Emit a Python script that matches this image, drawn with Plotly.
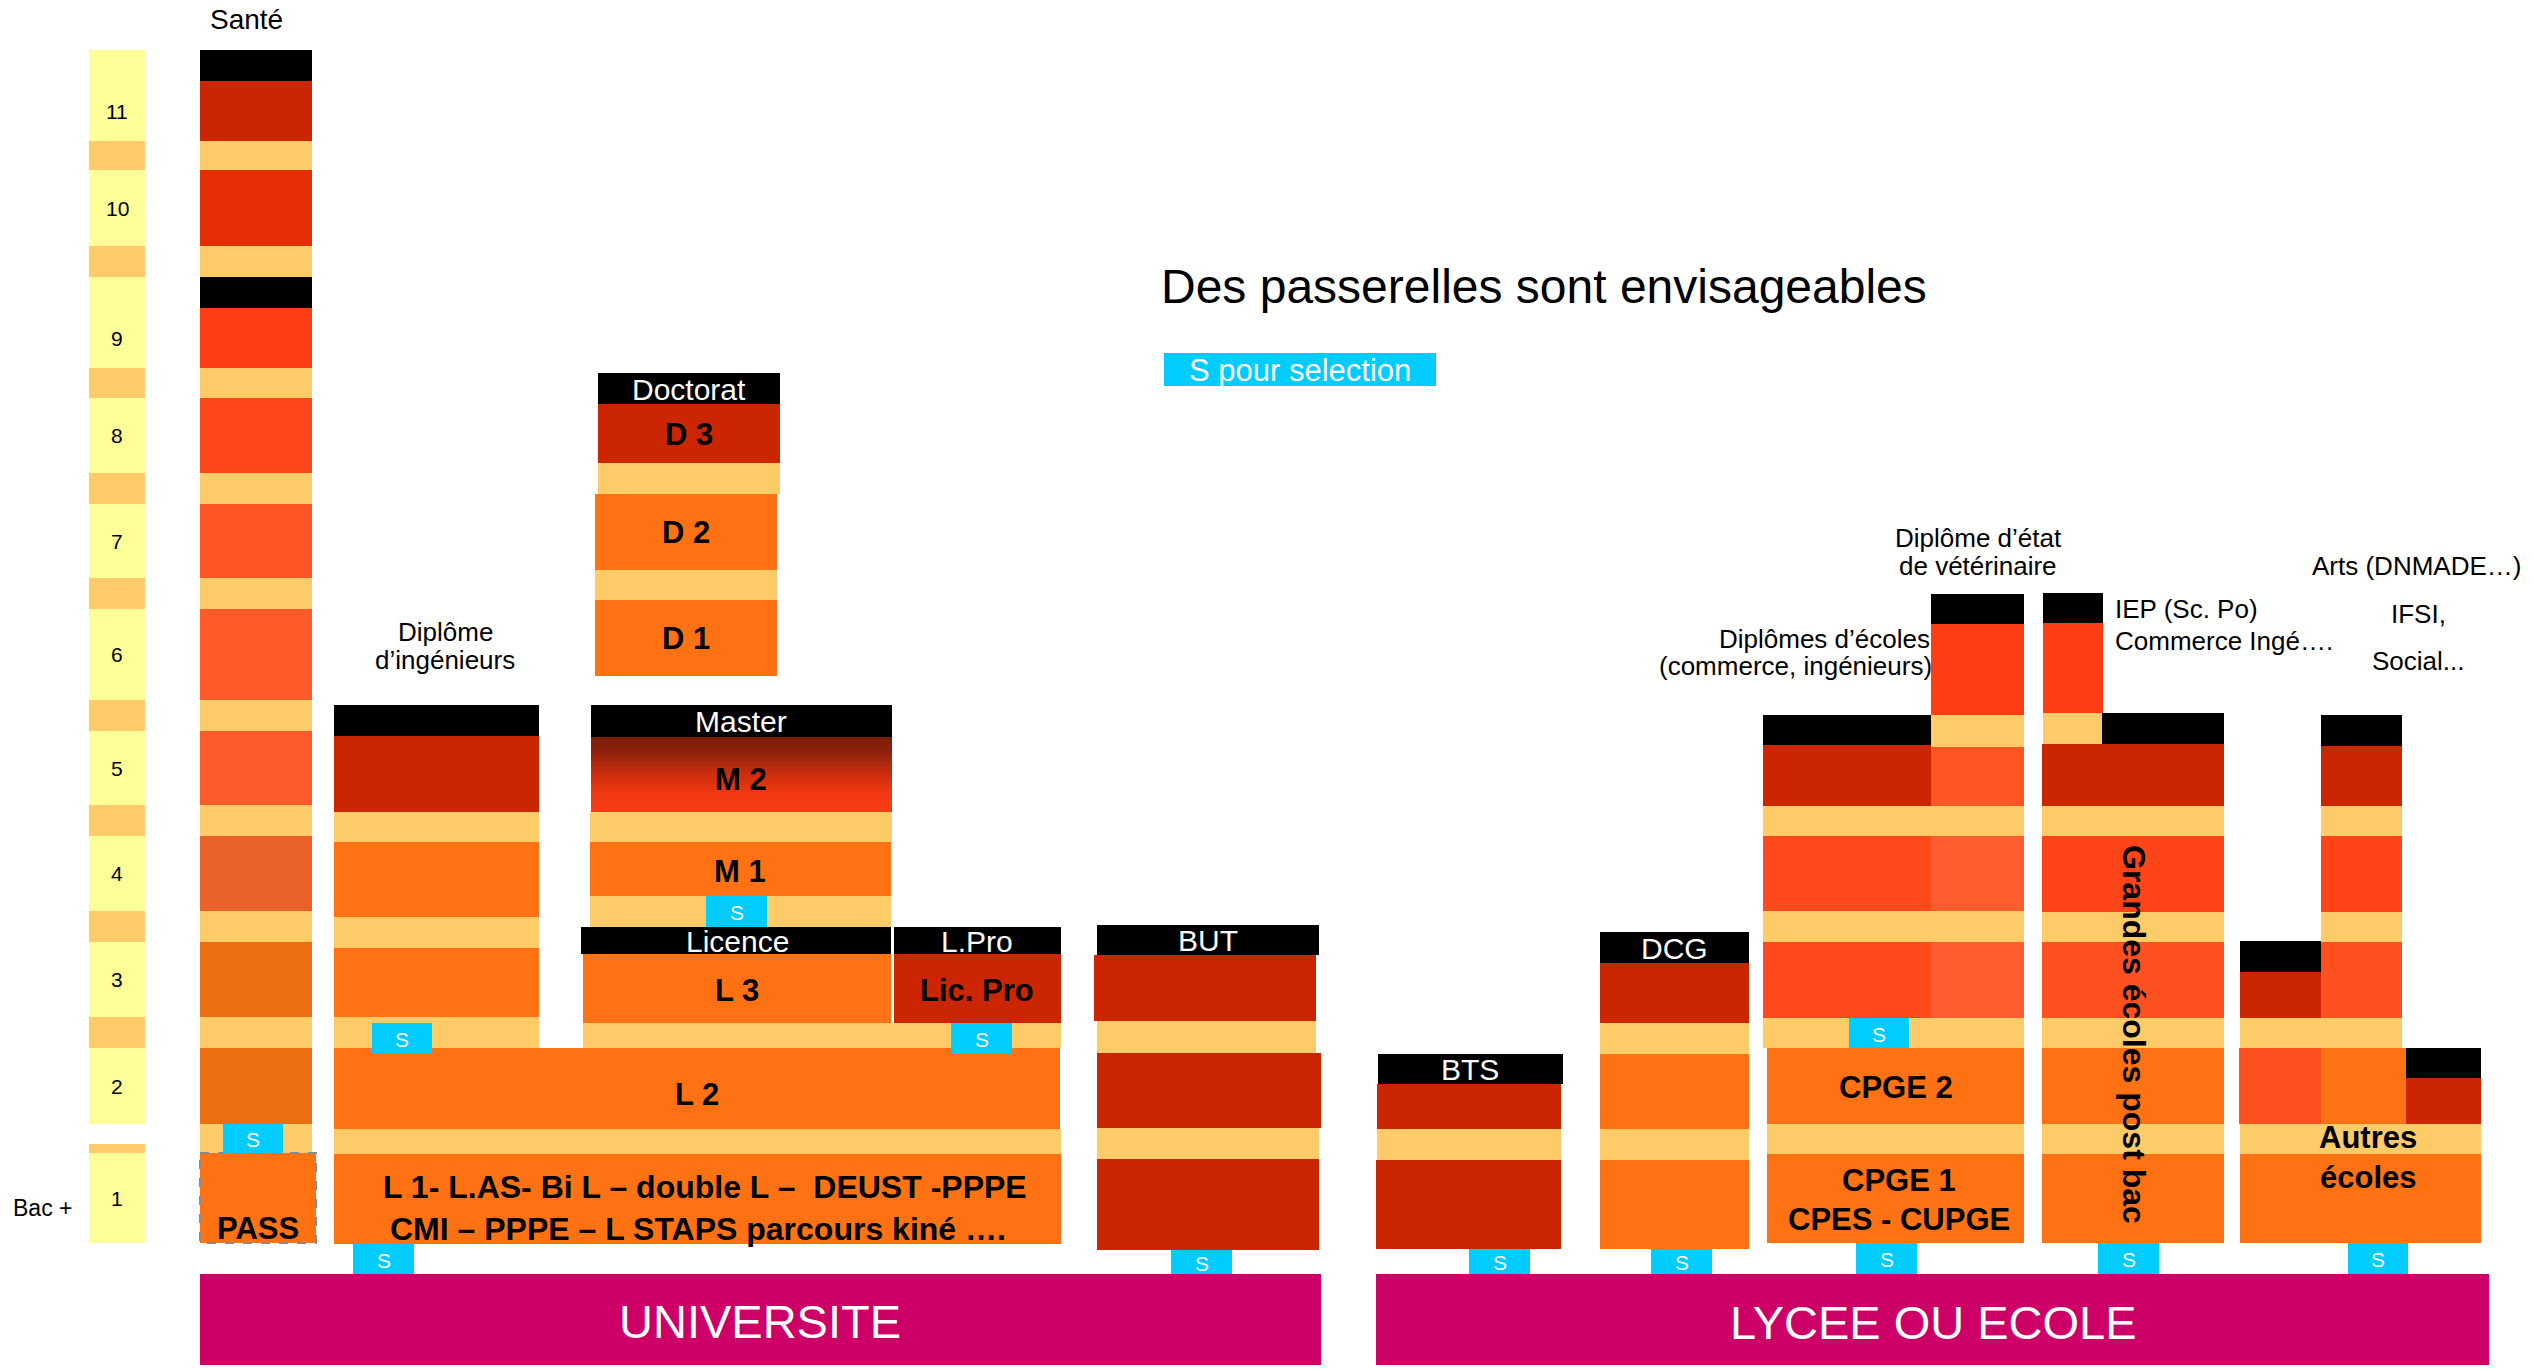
import plotly.graph_objects as go

# ------------------------------------------------------------------
# DATA (texts, levels, categories)
# ------------------------------------------------------------------
LEVELS = [1, 2, 3, 4, 5, 6, 7, 8, 9, 10, 11]
LEVEL_LABELS = [str(v) for v in LEVELS]
BAC_LABEL = "Bac +"
TITLE = "Des passerelles sont envisageables"
LEGEND_S = "S pour selection"
SECTORS = ["UNIVERSITE", "LYCEE OU ECOLE"]
SANTE_TITLE = "Santé"
SANTE_LEVELS = [2, 3, 4, 5, 6, 7, 8, 9, 10, 11]
SANTE_HEADER_LEVELS = [9, 11]
PASS_LABEL = "PASS"
HEADERS = ["Doctorat", "Master", "Licence", "L.Pro", "BUT", "BTS", "DCG"]
DOCTORAT_LABELS = ["D 3", "D 2", "D 1"]
MASTER_LABELS = ["M 2", "M 1"]
LICENCE_LABELS = ["L 3", "Lic. Pro", "L 2"]
L1_LINES = ["L 1- L.AS- Bi L – double L –  DEUST -PPPE",
            "CMI – PPPE – L STAPS parcours kiné …."]
CPGE_LABELS = ["CPGE 2", "CPGE 1", "CPES - CUPGE"]
GE_LABEL = "Grandes écoles post bac"
AUTRES_LINES = ["Autres", "écoles"]
NOTE_ING = ["Diplôme", "d’ingénieurs"]
NOTE_ECOLES = ["Diplômes d’écoles", "(commerce, ingénieurs)"]
NOTE_VETO = ["Diplôme d’état", "de vétérinaire"]
NOTE_IEP = ["IEP (Sc. Po)", "Commerce Ingé…."]
NOTE_ARTS = ["Arts (DNMADE…)", "IFSI,", "Social..."]
S_TEXT = "S"

# ------------------------------------------------------------------
# STYLE
# ------------------------------------------------------------------
YEL = "#FFFF99"
SEP = "#FECB69"
BLK = "#000000"
DRED = "#CC2503"
ORG = "#FF7213"
CYAN = "#00CCFF"
MAG = "#CC0066"
SANTE_COLORS = {2: "#EC6E11", 3: "#EC6E11", 4: "#E9622A", 5: "#FF5A2A",
                6: "#FF5A28", 7: "#FF5524", 8: "#FF471C", 9: "#FF3D14",
                10: "#E62E06", 11: "#CC2503"}
R_CP = "#FF481C"
R_VET = "#FF5C30"
R_VET5 = "#FF5522"
R_G4 = "#FF4418"
R_G3 = "#FF5020"
R_TOP = "#FF3D14"
FONT = "Liberation Sans, Arial, sans-serif"

W, H = 2534, 1369

# level bands (pixel layout of the level scale, top / bottom)
BAND_TOP = [1153, 1048, 942, 836, 731, 609, 504, 398, 277, 170, 50]
BAND_BOT = [1243, 1124, 1017, 911, 805, 700, 578, 473, 368, 246, 141]
HDR = 31

shapes = []
anns = []
s_boxes = []


def rect(x0, x1, y0, y1, color, line=None):
    shapes.append(dict(type="rect", xref="x", yref="y", x0=x0, x1=x1, y0=y0, y1=y1,
                       fillcolor=color, line=line or dict(width=0), layer="above"))


def txt(x, y, text, size, color="black", bold=False, xanchor="center", angle=0):
    if bold:
        text = "<b>" + text + "</b>"
    anns.append(dict(x=x, y=y, xref="x", yref="y", text=text, showarrow=False,
                     xanchor=xanchor, yanchor="middle", textangle=angle,
                     font=dict(family=FONT, size=size, color=color)))


def sbox(x0, x1, y0, y1):
    s_boxes.append((x0, x1, y0, y1))


idx = {lv: i for i, lv in enumerate(LEVELS)}

# ---------------- legend column (Bac + levels) ----------------
LX0, LX1 = 89, 145
for i, lv in enumerate(LEVELS):
    rect(LX0, LX1, BAND_TOP[i], BAND_BOT[i], YEL)
    top = BAND_TOP[i] + (HDR if lv in SANTE_HEADER_LEVELS else 0)
    txt((LX0 + LX1) / 2, (top + BAND_BOT[i]) / 2, LEVEL_LABELS[i], 21)
for i in range(1, len(LEVELS) - 1):
    rect(LX0, LX1, BAND_BOT[i + 1], BAND_TOP[i], SEP)
rect(LX0, LX1, 1144, 1153, SEP)
txt(42, 1208, BAC_LABEL, 23)

# ---------------- Santé ----------------
SX0, SX1 = 200, 312
txt(246, 19, SANTE_TITLE, 28)
for lv in SANTE_LEVELS:
    i = idx[lv]
    rect(SX0, SX1, BAND_TOP[i], BAND_BOT[i], SANTE_COLORS[lv])
    if lv in SANTE_HEADER_LEVELS:
        rect(SX0, SX1, BAND_TOP[i], BAND_TOP[i] + HDR, BLK)
for lv in SANTE_LEVELS[:-1]:
    i = idx[lv]
    rect(SX0, SX1, BAND_BOT[i + 1], BAND_TOP[i], SEP)
rect(SX0, SX1, BAND_BOT[1], BAND_TOP[0], SEP)
sbox(223, 283, 1124, 1153)
rect(200, 316, 1153, 1243, ORG, line=dict(color="#8A8A8A", width=2, dash="dash"))
txt(258, 1228, PASS_LABEL, 31, bold=True)

# ---------------- Ingénieurs ----------------
rect(334, 539, 705, 736, BLK)
rect(334, 539, 736, 812, DRED)
rect(334, 539, 812, 842, SEP)
rect(334, 539, 842, 917, ORG)
rect(334, 539, 917, 948, SEP)
rect(334, 539, 948, 1017, ORG)
rect(334, 539, 1017, 1048, SEP)
sbox(372, 432, 1023, 1054)
txt(445, 632, NOTE_ING[0], 26)
txt(445, 660, NOTE_ING[1], 26)

# ---------------- Doctorat ----------------
rect(598, 780, 373, 404, BLK)
txt(689, 389, HEADERS[0], 30, color="white")
rect(598, 780, 404, 464, DRED)
txt(689, 434, DOCTORAT_LABELS[0], 31, bold=True)
rect(598, 780, 463, 494, SEP)
rect(595, 777, 494, 570, ORG)
txt(686, 532, DOCTORAT_LABELS[1], 31, bold=True)
rect(595, 777, 570, 600, SEP)
rect(595, 777, 600, 676, ORG)
txt(686, 638, DOCTORAT_LABELS[2], 31, bold=True)

# ---------------- Master (M2 gradient) ----------------
rect(591, 892, 705, 737, BLK)
txt(741, 721, HEADERS[1], 30, color="white")
grad_stops = [(0.0, (122, 28, 12)), (0.25, (150, 36, 13)), (0.5, (205, 46, 14)),
              (0.75, (240, 56, 19)), (1.0, (250, 62, 20))]


def grad_color(t):
    for (t0, c0), (t1, c1) in zip(grad_stops[:-1], grad_stops[1:]):
        if t0 <= t <= t1:
            f = (t - t0) / (t1 - t0)
            return "rgb(%d,%d,%d)" % tuple(round(a + (b - a) * f) for a, b in zip(c0, c1))
    return "rgb(250,62,20)"


G0, G1 = 737, 812
n = 38
step = (G1 - G0) / n
for k in range(n):
    y0 = G0 + k * step
    rect(591, 892, y0, min(G1, y0 + step + 0.8), grad_color((k + 0.5) / n))
txt(741, 779, MASTER_LABELS[0], 31, bold=True)
rect(590, 892, 812, 842, SEP)
rect(590, 891, 842, 896, ORG)
txt(740, 871, MASTER_LABELS[1], 31, bold=True)
rect(590, 891, 896, 927, SEP)
sbox(706, 767, 896, 927)

# ---------------- Licence / L.Pro / L2 / L1 ----------------
rect(581, 891, 927, 954, BLK)
txt(737, 941, HEADERS[2], 30, color="white")
rect(894, 1061, 927, 954, BLK)
txt(977, 941, HEADERS[3], 30, color="white")
rect(583, 891, 954, 1023, ORG)
txt(737, 990, LICENCE_LABELS[0], 31, bold=True)
rect(894, 1061, 954, 1023, DRED)
txt(977, 990, LICENCE_LABELS[1], 31, bold=True)
rect(583, 1061, 1023, 1048, SEP)
sbox(951, 1012, 1023, 1054)
rect(334, 1060, 1048, 1129, ORG)
txt(697, 1094, LICENCE_LABELS[2], 31, bold=True)
rect(334, 1061, 1129, 1154, SEP)
rect(334, 1061, 1154, 1244, ORG)
txt(705, 1187, L1_LINES[0], 32, bold=True)
txt(698, 1229, L1_LINES[1], 32, bold=True)
sbox(353, 414, 1244, 1274)

# ---------------- BUT ----------------
rect(1097, 1319, 925, 955, BLK)
txt(1208, 940, HEADERS[4], 30, color="white")
rect(1094, 1316, 955, 1021, DRED)
rect(1097, 1316, 1021, 1053, SEP)
rect(1097, 1321, 1053, 1128, DRED)
rect(1097, 1319, 1128, 1159, SEP)
rect(1097, 1319, 1159, 1250, DRED)
sbox(1171, 1232, 1250, 1274)

# UNIVERSITE bar
rect(200, 1321, 1274, 1365, MAG)
txt(760, 1321, SECTORS[0], 47, color="white")

# ---------------- BTS ----------------
rect(1378, 1563, 1054, 1084, BLK)
txt(1470, 1069, HEADERS[5], 30, color="white")
rect(1377, 1561, 1084, 1129, DRED)
rect(1377, 1561, 1129, 1160, SEP)
rect(1376, 1561, 1160, 1249, DRED)
sbox(1469, 1530, 1249, 1274)

# ---------------- DCG ----------------
rect(1600, 1749, 932, 963, BLK)
txt(1674, 948, HEADERS[6], 30, color="white")
rect(1600, 1749, 963, 1023, DRED)
rect(1600, 1749, 1023, 1054, SEP)
rect(1600, 1749, 1054, 1129, ORG)
rect(1600, 1749, 1129, 1160, SEP)
rect(1600, 1749, 1160, 1249, ORG)
sbox(1651, 1712, 1249, 1274)

# ---------------- CPGE / vétérinaire ----------------
rect(1763, 1931, 715, 745, BLK)
rect(1763, 1931, 745, 806, DRED)
rect(1931, 2024, 594, 624, BLK)
rect(1931, 2024, 624, 715, R_TOP)
rect(1931, 2024, 715, 747, SEP)
rect(1931, 2024, 747, 806, R_VET5)
rect(1763, 2024, 806, 836, SEP)
rect(1763, 1931, 836, 911, R_CP)
rect(1931, 2024, 836, 911, R_VET)
rect(1763, 2024, 911, 942, SEP)
rect(1763, 1931, 942, 1018, R_CP)
rect(1931, 2024, 942, 1018, R_VET)
rect(1763, 2024, 1018, 1048, SEP)
sbox(1849, 1909, 1018, 1048)
rect(1767, 2024, 1048, 1124, ORG)
txt(1896, 1087, CPGE_LABELS[0], 31, bold=True)
rect(1767, 2024, 1124, 1154, SEP)
rect(1767, 2024, 1154, 1243, ORG)
txt(1899, 1180, CPGE_LABELS[1], 31, bold=True)
txt(1899, 1219, CPGE_LABELS[2], 31, bold=True)
sbox(1856, 1917, 1243, 1274)
txt(1932, 639, NOTE_ECOLES[0], 26, xanchor="right")
txt(1934, 666, NOTE_ECOLES[1], 26, xanchor="right")
txt(1978, 538, NOTE_VETO[0], 26)
txt(1978, 566, NOTE_VETO[1], 26)

# ---------------- IEP / Grandes écoles ----------------
rect(2043, 2103, 593, 623, BLK)
rect(2043, 2103, 623, 713, R_TOP)
rect(2043, 2103, 713, 746, SEP)
rect(2102, 2224, 713, 744, BLK)
rect(2042, 2224, 744, 806, DRED)
rect(2042, 2224, 806, 836, SEP)
rect(2042, 2224, 836, 912, R_G4)
rect(2042, 2224, 912, 942, SEP)
rect(2042, 2224, 942, 1018, R_G3)
rect(2042, 2224, 1018, 1048, SEP)
rect(2042, 2224, 1048, 1124, ORG)
rect(2042, 2224, 1124, 1154, SEP)
rect(2042, 2224, 1154, 1243, ORG)
sbox(2098, 2159, 1243, 1274)
txt(2134, 1034, GE_LABEL, 32, bold=True, angle=90)
txt(2113, 609, NOTE_IEP[0], 26, xanchor="left")
txt(2113, 641, NOTE_IEP[1], 26, xanchor="left")

# ---------------- Autres écoles ----------------
rect(2240, 2321, 941, 972, BLK)
rect(2240, 2321, 972, 1018, DRED)
rect(2321, 2402, 715, 746, BLK)
rect(2321, 2402, 746, 806, DRED)
rect(2321, 2402, 806, 836, SEP)
rect(2321, 2402, 836, 912, R_G4)
rect(2321, 2402, 912, 942, SEP)
rect(2321, 2402, 942, 1018, R_G3)
rect(2240, 2402, 1018, 1048, SEP)
rect(2239, 2321, 1048, 1124, R_G3)
rect(2321, 2406, 1048, 1124, ORG)
rect(2406, 2481, 1048, 1078, BLK)
rect(2406, 2481, 1078, 1124, DRED)
rect(2240, 2481, 1124, 1154, SEP)
rect(2240, 2481, 1154, 1243, ORG)
sbox(2348, 2408, 1243, 1274)
txt(2368, 1137, AUTRES_LINES[0], 31, bold=True)
txt(2368, 1177, AUTRES_LINES[1], 31, bold=True)
txt(2416, 566, NOTE_ARTS[0], 26)
txt(2418, 614, NOTE_ARTS[1], 26)
txt(2418, 661, NOTE_ARTS[2], 26)

# LYCEE bar
rect(1376, 2489, 1274, 1365, MAG)
txt(1933, 1322, SECTORS[1], 47, color="white")

# ---------------- title & legend ----------------
txt(1544, 286, TITLE, 48)
rect(1164, 1436, 353, 386, CYAN)
txt(1300, 370, LEGEND_S, 31, color="white")

# selection boxes on top
for (x0, x1, y0, y1) in s_boxes:
    rect(x0, x1, y0, y1, CYAN)
    txt((x0 + x1) / 2, (y0 + y1) / 2 + 1, S_TEXT, 21, color="white")

fig = go.Figure()
fig.add_trace(go.Scatter(x=[0, W], y=[0, H], mode="markers",
                         marker=dict(size=1, color="rgba(0,0,0,0)"),
                         hoverinfo="skip", showlegend=False))
fig.update_layout(
    width=W, height=H,
    margin=dict(l=0, r=0, t=0, b=0),
    paper_bgcolor="white", plot_bgcolor="white",
    xaxis=dict(range=[0, W], visible=False, fixedrange=True),
    yaxis=dict(range=[H, 0], visible=False, fixedrange=True),
    shapes=shapes, annotations=anns, showlegend=False,
)
fig.write_html("out.html", config={"displayModeBar": False},
               post_script="document.body.style.margin='0';document.body.style.overflow='hidden';")
